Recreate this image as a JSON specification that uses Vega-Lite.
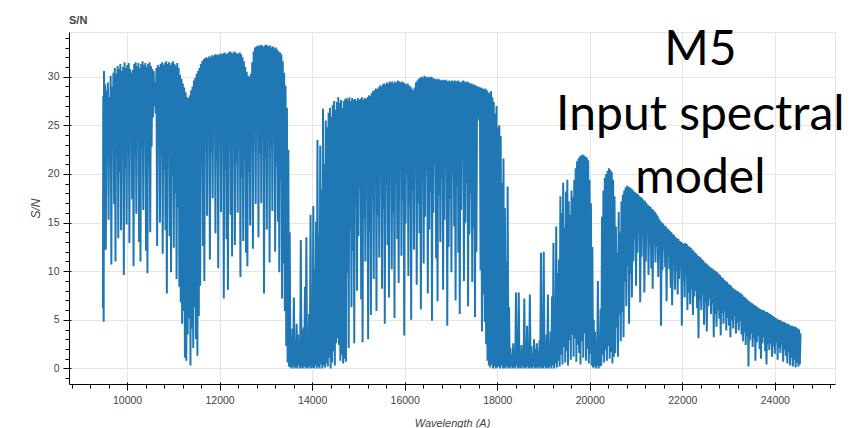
{
  "$schema": "https://vega.github.io/schema/vega-lite/v6.json",
  "autosize": "none",
  "width": 766,
  "height": 352,
  "padding": {"left": 69, "top": 32, "right": 21, "bottom": 44},
  "background": "#ffffff",
  "title": {"text": "S/N", "anchor": "start", "frame": "group", "font": "Liberation Sans", "fontSize": 11, "fontWeight": "bold", "color": "#444444", "offset": -8, "baseline": "alphabetic"},
  "config": {
    "view": {"stroke": "#e5e5e5", "strokeWidth": 1},
    "axis": {
      "labelFont": "Liberation Sans", "labelFontSize": 10.5, "labelColor": "#444444",
      "titleFont": "Liberation Sans", "titleColor": "#444444", "titleFontStyle": "italic", "titleFontWeight": "normal",
      "domainColor": "#000000", "tickColor": "#000000", "gridColor": "#e5e5e5", "domainWidth": 1, "tickWidth": 1
    }
  },
  "resolve": {"axis": {"x": "independent", "y": "independent"}},
  "layer": [
    {
      "data": {"values": [
        {"w":9478,"s":6.2},{"w":9486,"s":28.0},{"w":9494,"s":4.8},{"w":9502,"s":30.6},
        {"w":9510,"s":22.4},{"w":9525,"s":29.2},{"w":9540,"s":12.2},{"w":9555,"s":28.6},{"w":9570,"s":24.0},{"w":9585,"s":29.4},
        {"w":9600,"s":15.3},{"w":9615,"s":27.9},{"w":9630,"s":21.0},{"w":9645,"s":30.1},{"w":9660,"s":10.7},{"w":9675,"s":29.0},
        {"w":9690,"s":23.5},{"w":9705,"s":30.4},{"w":9720,"s":16.9},{"w":9735,"s":30.9},{"w":9750,"s":11.0},{"w":9765,"s":30.3},
        {"w":9780,"s":24.6},{"w":9795,"s":31.1},{"w":9810,"s":13.4},{"w":9825,"s":30.8},{"w":9840,"s":20.2},{"w":9855,"s":31.3},
        {"w":9870,"s":14.2},{"w":9885,"s":30.6},{"w":9900,"s":23.1},{"w":9915,"s":31.0},{"w":9930,"s":9.6},{"w":9945,"s":31.5},
        {"w":9960,"s":20.6},{"w":9975,"s":30.9},{"w":9990,"s":14.8},{"w":10005,"s":31.2},{"w":10020,"s":22.7},{"w":10035,"s":31.4},
        {"w":10050,"s":12.9},{"w":10065,"s":30.8},{"w":10080,"s":25.0},{"w":10095,"s":30.4},{"w":10110,"s":17.4},{"w":10125,"s":30.7},
        {"w":10140,"s":10.5},{"w":10155,"s":31.3},{"w":10170,"s":21.8},{"w":10185,"s":31.5},{"w":10200,"s":15.9},{"w":10215,"s":31.1},
        {"w":10230,"s":24.2},{"w":10245,"s":31.4},{"w":10260,"s":13.0},{"w":10275,"s":30.9},{"w":10290,"s":11.0},{"w":10305,"s":31.3},
        {"w":10320,"s":22.6},{"w":10335,"s":31.6},{"w":10350,"s":16.3},{"w":10365,"s":31.2},{"w":10380,"s":24.4},{"w":10395,"s":31.4},
        {"w":10410,"s":12.1},{"w":10425,"s":31.0},{"w":10440,"s":9.8},{"w":10455,"s":31.3},{"w":10470,"s":20.9},{"w":10485,"s":31.5},
        {"w":10500,"s":14.0},{"w":10515,"s":31.1},{"w":10530,"s":22.8},{"w":10545,"s":30.8},{"w":10560,"s":25.8},{"w":10575,"s":30.6},
        {"w":10590,"s":27.0},{"w":10605,"s":29.4},{"w":10620,"s":26.2},{"w":10635,"s":30.9},{"w":10650,"s":12.6},{"w":10665,"s":31.2},
        {"w":10680,"s":24.1},{"w":10695,"s":31.0},{"w":10710,"s":15.0},{"w":10725,"s":31.3},{"w":10740,"s":22.0},{"w":10755,"s":31.5},
        {"w":10770,"s":11.8},{"w":10785,"s":31.2},{"w":10800,"s":20.4},{"w":10815,"s":31.4},{"w":10830,"s":14.2},{"w":10845,"s":31.6},
        {"w":10860,"s":7.7},{"w":10875,"s":31.3},{"w":10890,"s":21.7},{"w":10905,"s":31.5},{"w":10920,"s":13.6},{"w":10935,"s":31.2},
        {"w":10950,"s":9.9},{"w":10965,"s":31.4},{"w":10980,"s":19.8},{"w":10995,"s":31.6},{"w":11010,"s":12.4},{"w":11025,"s":31.3},
        {"w":11040,"s":18.0},{"w":11055,"s":31.1},{"w":11070,"s":9.2},{"w":11085,"s":31.4},{"w":11100,"s":16.6},{"w":11115,"s":30.9},
        {"w":11130,"s":8.4},{"w":11145,"s":30.2},{"w":11160,"s":6.8},{"w":11175,"s":29.8},{"w":11190,"s":4.6},{"w":11205,"s":29.3},
        {"w":11220,"s":5.9},{"w":11235,"s":28.9},{"w":11250,"s":1.1},{"w":11265,"s":28.4},{"w":11280,"s":0.8},{"w":11295,"s":27.9},
        {"w":11310,"s":3.5},{"w":11325,"s":27.8},{"w":11340,"s":5.2},{"w":11355,"s":28.1},{"w":11370,"s":0.3},{"w":11385,"s":28.6},
        {"w":11400,"s":4.1},{"w":11415,"s":29.0},{"w":11430,"s":2.1},{"w":11445,"s":29.6},{"w":11460,"s":6.3},{"w":11475,"s":29.9},
        {"w":11490,"s":3.0},{"w":11505,"s":30.3},{"w":11520,"s":1.3},{"w":11535,"s":30.6},{"w":11550,"s":5.4},{"w":11565,"s":30.9},
        {"w":11580,"s":8.5},{"w":11595,"s":31.3},{"w":11610,"s":21.0},{"w":11625,"s":31.6},{"w":11640,"s":12.6},{"w":11655,"s":31.8},
        {"w":11670,"s":9.0},{"w":11685,"s":31.9},{"w":11700,"s":23.8},{"w":11715,"s":32.0},{"w":11730,"s":15.7},{"w":11745,"s":31.9},
        {"w":11760,"s":24.9},{"w":11775,"s":32.1},{"w":11790,"s":11.2},{"w":11805,"s":32.0},{"w":11820,"s":22.3},{"w":11835,"s":32.2},
        {"w":11850,"s":17.5},{"w":11865,"s":32.1},{"w":11880,"s":25.1},{"w":11895,"s":32.3},{"w":11910,"s":13.9},{"w":11925,"s":32.2},
        {"w":11940,"s":21.4},{"w":11955,"s":32.3},{"w":11970,"s":10.3},{"w":11985,"s":32.2},{"w":12000,"s":23.6},{"w":12015,"s":32.4},
        {"w":12030,"s":16.1},{"w":12045,"s":32.3},{"w":12060,"s":24.7},{"w":12075,"s":32.4},{"w":12090,"s":7.2},{"w":12105,"s":32.5},
        {"w":12120,"s":20.5},{"w":12135,"s":32.3},{"w":12150,"s":13.3},{"w":12165,"s":32.4},{"w":12180,"s":8.1},{"w":12195,"s":32.5},
        {"w":12210,"s":22.9},{"w":12225,"s":32.6},{"w":12240,"s":15.8},{"w":12255,"s":32.5},{"w":12270,"s":11.5},{"w":12285,"s":32.4},
        {"w":12300,"s":24.3},{"w":12315,"s":32.6},{"w":12330,"s":12.7},{"w":12345,"s":32.5},{"w":12360,"s":21.2},{"w":12375,"s":32.4},
        {"w":12390,"s":16.0},{"w":12405,"s":32.4},{"w":12420,"s":23.0},{"w":12435,"s":32.5},{"w":12450,"s":9.4},{"w":12465,"s":32.3},
        {"w":12480,"s":19.6},{"w":12495,"s":32.0},{"w":12510,"s":13.1},{"w":12525,"s":31.6},{"w":12540,"s":21.5},{"w":12555,"s":31.0},
        {"w":12570,"s":11.9},{"w":12585,"s":30.5},{"w":12600,"s":10.5},{"w":12615,"s":30.1},{"w":12630,"s":20.2},{"w":12645,"s":30.0},
        {"w":12660,"s":14.7},{"w":12675,"s":30.3},{"w":12690,"s":23.4},{"w":12705,"s":31.5},{"w":12720,"s":12.3},{"w":12735,"s":32.6},
        {"w":12750,"s":24.8},{"w":12765,"s":33.0},{"w":12780,"s":16.9},{"w":12795,"s":33.1},{"w":12810,"s":25.2},{"w":12825,"s":33.2},
        {"w":12840,"s":13.5},{"w":12855,"s":33.1},{"w":12870,"s":22.1},{"w":12885,"s":33.3},{"w":12900,"s":17.0},{"w":12915,"s":33.2},
        {"w":12930,"s":24.5},{"w":12945,"s":33.1},{"w":12960,"s":7.7},{"w":12975,"s":33.2},{"w":12990,"s":21.6},{"w":13005,"s":33.3},
        {"w":13020,"s":14.3},{"w":13035,"s":33.2},{"w":13050,"s":24.0},{"w":13065,"s":33.1},{"w":13080,"s":10.9},{"w":13095,"s":33.2},
        {"w":13110,"s":22.7},{"w":13125,"s":33.0},{"w":13140,"s":16.2},{"w":13155,"s":33.1},{"w":13170,"s":23.9},{"w":13185,"s":32.9},
        {"w":13200,"s":12.0},{"w":13215,"s":33.0},{"w":13230,"s":20.8},{"w":13245,"s":32.8},{"w":13260,"s":15.1},{"w":13275,"s":32.6},
        {"w":13290,"s":9.9},{"w":13305,"s":32.5},{"w":13320,"s":19.4},{"w":13335,"s":32.3},{"w":13350,"s":7.2},{"w":13365,"s":31.6},
        {"w":13380,"s":10.8},{"w":13395,"s":30.4},{"w":13410,"s":5.9},{"w":13425,"s":29.1},{"w":13440,"s":2.3},{"w":13455,"s":26.8},
        {"w":13470,"s":0.6},{"w":13485,"s":22.5},{"w":13500,"s":0.2},{"w":13515,"s":14.0},{"w":13530,"s":0.1},{"w":13545,"s":3.2},
        {"w":13560,"s":0.0},{"w":13575,"s":4.1},{"w":13590,"s":0.2},{"w":13605,"s":7.3},{"w":13620,"s":0.0},{"w":13635,"s":2.8},
        {"w":13650,"s":0.1},{"w":13665,"s":4.6},{"w":13680,"s":0.0},{"w":13695,"s":3.5},{"w":13710,"s":0.3},{"w":13725,"s":2.6},
        {"w":13740,"s":0.0},{"w":13755,"s":13.2},{"w":13770,"s":0.1},{"w":13785,"s":3.9},{"w":13800,"s":0.0},{"w":13815,"s":4.2},
        {"w":13830,"s":0.2},{"w":13845,"s":8.4},{"w":13860,"s":0.0},{"w":13875,"s":13.5},{"w":13890,"s":0.1},{"w":13905,"s":3.1},
        {"w":13920,"s":0.0},{"w":13935,"s":5.6},{"w":13950,"s":0.2},{"w":13965,"s":15.8},{"w":13980,"s":0.0},{"w":13995,"s":4.9},
        {"w":14010,"s":0.1},{"w":14025,"s":16.7},{"w":14040,"s":0.0},{"w":14055,"s":10.2},{"w":14070,"s":0.3},{"w":14085,"s":15.1},
        {"w":14100,"s":0.0},{"w":14115,"s":23.5},{"w":14130,"s":0.2},{"w":14145,"s":13.8},{"w":14160,"s":0.0},{"w":14175,"s":22.9},
        {"w":14190,"s":0.4},{"w":14205,"s":18.4},{"w":14220,"s":0.0},{"w":14235,"s":26.7},{"w":14250,"s":0.3},{"w":14265,"s":21.0},
        {"w":14280,"s":0.1},{"w":14295,"s":25.5},{"w":14310,"s":0.5},{"w":14325,"s":24.8},{"w":14340,"s":0.2},{"w":14355,"s":26.3},
        {"w":14370,"s":1.1},{"w":14385,"s":26.8},{"w":14400,"s":0.0},{"w":14415,"s":25.9},{"w":14430,"s":0.6},{"w":14445,"s":27.1},
        {"w":14460,"s":1.8},{"w":14475,"s":27.5},{"w":14490,"s":0.3},{"w":14505,"s":26.6},{"w":14520,"s":2.6},{"w":14535,"s":27.4},
        {"w":14550,"s":3.1},{"w":14565,"s":27.9},{"w":14580,"s":2.4},{"w":14595,"s":27.3},{"w":14610,"s":0.8},{"w":14625,"s":27.6},
        {"w":14640,"s":1.4},{"w":14655,"s":26.8},{"w":14670,"s":0.5},{"w":14685,"s":27.5},{"w":14700,"s":1.0},{"w":14715,"s":27.7},
        {"w":14730,"s":0.7},{"w":14745,"s":27.8},{"w":14760,"s":9.8},{"w":14775,"s":27.6},{"w":14790,"s":2.1},{"w":14805,"s":27.9},
        {"w":14820,"s":14.5},{"w":14835,"s":27.5},{"w":14850,"s":6.3},{"w":14865,"s":27.8},{"w":14880,"s":12.1},{"w":14895,"s":27.6},
        {"w":14910,"s":2.6},{"w":14925,"s":27.7},{"w":14940,"s":16.8},{"w":14955,"s":27.5},{"w":14970,"s":8.0},{"w":14985,"s":27.8},
        {"w":15000,"s":13.6},{"w":15015,"s":27.6},{"w":15030,"s":18.5},{"w":15045,"s":27.7},{"w":15060,"s":7.1},{"w":15075,"s":27.9},
        {"w":15090,"s":2.7},{"w":15105,"s":27.6},{"w":15120,"s":15.4},{"w":15135,"s":27.8},{"w":15150,"s":11.0},{"w":15165,"s":27.7},
        {"w":15180,"s":19.2},{"w":15195,"s":27.9},{"w":15210,"s":3.0},{"w":15225,"s":28.1},{"w":15240,"s":14.0},{"w":15255,"s":28.0},
        {"w":15270,"s":5.5},{"w":15285,"s":28.3},{"w":15300,"s":17.6},{"w":15315,"s":28.5},{"w":15330,"s":9.2},{"w":15345,"s":28.6},
        {"w":15360,"s":19.8},{"w":15375,"s":28.8},{"w":15390,"s":5.9},{"w":15405,"s":28.7},{"w":15420,"s":15.7},{"w":15435,"s":28.9},
        {"w":15450,"s":11.4},{"w":15465,"s":29.1},{"w":15480,"s":20.3},{"w":15495,"s":29.0},{"w":15510,"s":8.2},{"w":15525,"s":29.2},
        {"w":15540,"s":16.4},{"w":15555,"s":29.3},{"w":15570,"s":4.6},{"w":15585,"s":29.2},{"w":15600,"s":18.9},{"w":15615,"s":29.4},
        {"w":15630,"s":12.7},{"w":15645,"s":29.3},{"w":15660,"s":7.3},{"w":15675,"s":29.5},{"w":15690,"s":20.6},{"w":15705,"s":29.4},
        {"w":15720,"s":10.2},{"w":15735,"s":29.5},{"w":15750,"s":16.1},{"w":15765,"s":29.3},{"w":15780,"s":5.2},{"w":15795,"s":29.5},
        {"w":15810,"s":19.0},{"w":15825,"s":29.4},{"w":15840,"s":13.3},{"w":15855,"s":29.6},{"w":15870,"s":8.8},{"w":15885,"s":29.5},
        {"w":15900,"s":21.0},{"w":15915,"s":29.4},{"w":15930,"s":11.6},{"w":15945,"s":29.5},{"w":15960,"s":17.2},{"w":15975,"s":29.4},
        {"w":15990,"s":3.4},{"w":16005,"s":29.3},{"w":16020,"s":14.9},{"w":16035,"s":29.2},{"w":16050,"s":20.1},{"w":16065,"s":29.3},
        {"w":16080,"s":9.5},{"w":16095,"s":29.1},{"w":16110,"s":16.7},{"w":16125,"s":29.0},{"w":16140,"s":5.0},{"w":16155,"s":28.8},
        {"w":16170,"s":18.4},{"w":16185,"s":28.6},{"w":16200,"s":12.2},{"w":16215,"s":28.9},{"w":16230,"s":21.3},{"w":16245,"s":29.4},
        {"w":16260,"s":8.6},{"w":16275,"s":29.6},{"w":16290,"s":17.0},{"w":16305,"s":29.8},{"w":16320,"s":13.9},{"w":16335,"s":29.9},
        {"w":16350,"s":6.1},{"w":16365,"s":30.0},{"w":16380,"s":19.6},{"w":16395,"s":29.9},{"w":16410,"s":10.8},{"w":16425,"s":30.1},
        {"w":16440,"s":15.6},{"w":16455,"s":30.0},{"w":16470,"s":20.4},{"w":16485,"s":29.9},{"w":16500,"s":7.7},{"w":16515,"s":30.0},
        {"w":16530,"s":14.3},{"w":16545,"s":29.9},{"w":16560,"s":18.2},{"w":16575,"s":30.0},{"w":16590,"s":4.9},{"w":16605,"s":29.9},
        {"w":16620,"s":16.0},{"w":16635,"s":29.8},{"w":16650,"s":21.1},{"w":16665,"s":29.8},{"w":16680,"s":11.3},{"w":16695,"s":29.7},
        {"w":16710,"s":6.9},{"w":16725,"s":29.8},{"w":16740,"s":17.8},{"w":16755,"s":29.7},{"w":16770,"s":13.0},{"w":16785,"s":29.6},
        {"w":16800,"s":19.5},{"w":16815,"s":29.7},{"w":16830,"s":8.1},{"w":16845,"s":29.6},{"w":16860,"s":15.3},{"w":16875,"s":29.7},
        {"w":16890,"s":20.7},{"w":16905,"s":29.6},{"w":16920,"s":4.4},{"w":16935,"s":29.5},{"w":16950,"s":12.5},{"w":16965,"s":29.6},
        {"w":16980,"s":17.4},{"w":16995,"s":29.5},{"w":17010,"s":9.9},{"w":17025,"s":29.6},{"w":17040,"s":20.0},{"w":17055,"s":29.5},
        {"w":17070,"s":14.6},{"w":17085,"s":29.6},{"w":17100,"s":7.0},{"w":17115,"s":29.5},{"w":17130,"s":18.7},{"w":17145,"s":29.6},
        {"w":17160,"s":11.9},{"w":17175,"s":29.5},{"w":17190,"s":5.6},{"w":17205,"s":29.4},{"w":17220,"s":16.3},{"w":17235,"s":29.5},
        {"w":17250,"s":21.4},{"w":17265,"s":29.6},{"w":17280,"s":9.0},{"w":17295,"s":29.5},{"w":17310,"s":15.0},{"w":17325,"s":29.4},
        {"w":17340,"s":19.1},{"w":17355,"s":29.5},{"w":17370,"s":6.4},{"w":17385,"s":29.4},{"w":17400,"s":13.8},{"w":17415,"s":29.3},
        {"w":17430,"s":18.0},{"w":17445,"s":29.3},{"w":17460,"s":8.9},{"w":17475,"s":29.2},{"w":17490,"s":14.4},{"w":17505,"s":29.2},
        {"w":17520,"s":5.3},{"w":17535,"s":29.1},{"w":17550,"s":12.0},{"w":17565,"s":29.0},{"w":17580,"s":25.5},{"w":17595,"s":29.0},
        {"w":17610,"s":26.0},{"w":17625,"s":28.9},{"w":17640,"s":10.1},{"w":17655,"s":28.9},{"w":17670,"s":3.8},{"w":17685,"s":28.8},
        {"w":17700,"s":7.6},{"w":17715,"s":28.7},{"w":17730,"s":4.8},{"w":17745,"s":28.8},{"w":17760,"s":2.5},{"w":17775,"s":28.6},
        {"w":17790,"s":0.8},{"w":17805,"s":28.4},{"w":17820,"s":0.3},{"w":17835,"s":28.3},{"w":17850,"s":0.1},{"w":17865,"s":28.5},
        {"w":17880,"s":0.4},{"w":17895,"s":27.9},{"w":17910,"s":0.0},{"w":17925,"s":27.4},{"w":17940,"s":0.2},{"w":17955,"s":26.2},
        {"w":17970,"s":0.0},{"w":17985,"s":27.0},{"w":18000,"s":0.1},{"w":18015,"s":24.8},{"w":18030,"s":0.2},{"w":18045,"s":25.0},
        {"w":18060,"s":0.0},{"w":18075,"s":23.9},{"w":18090,"s":0.3},{"w":18105,"s":19.1},{"w":18120,"s":0.0},{"w":18135,"s":21.6},
        {"w":18150,"s":0.1},{"w":18165,"s":16.5},{"w":18180,"s":0.0},{"w":18195,"s":11.0},{"w":18210,"s":0.2},{"w":18225,"s":18.7},
        {"w":18240,"s":0.0},{"w":18255,"s":6.3},{"w":18270,"s":0.0},{"w":18285,"s":2.1},{"w":18300,"s":0.2},{"w":18315,"s":1.4},
        {"w":18330,"s":0.0},{"w":18345,"s":2.6},{"w":18360,"s":0.1},{"w":18375,"s":1.8},{"w":18390,"s":0.0},{"w":18405,"s":7.8},
        {"w":18420,"s":0.3},{"w":18435,"s":2.2},{"w":18450,"s":0.0},{"w":18465,"s":7.8},{"w":18480,"s":0.1},{"w":18495,"s":1.6},
        {"w":18510,"s":0.0},{"w":18525,"s":2.4},{"w":18540,"s":0.2},{"w":18555,"s":1.9},{"w":18570,"s":0.0},{"w":18585,"s":7.2},
        {"w":18600,"s":0.1},{"w":18615,"s":2.5},{"w":18630,"s":0.0},{"w":18645,"s":4.4},{"w":18660,"s":0.2},{"w":18675,"s":1.7},
        {"w":18690,"s":0.0},{"w":18705,"s":7.6},{"w":18720,"s":0.1},{"w":18735,"s":2.3},{"w":18750,"s":0.0},{"w":18765,"s":1.5},
        {"w":18780,"s":0.2},{"w":18795,"s":3.0},{"w":18810,"s":0.0},{"w":18825,"s":2.0},{"w":18840,"s":0.1},{"w":18855,"s":2.6},
        {"w":18870,"s":0.0},{"w":18885,"s":1.8},{"w":18900,"s":0.2},{"w":18915,"s":2.9},{"w":18930,"s":0.0},{"w":18945,"s":11.9},
        {"w":18960,"s":0.1},{"w":18975,"s":3.2},{"w":18990,"s":0.0},{"w":19005,"s":12.0},{"w":19020,"s":0.2},{"w":19035,"s":2.7},
        {"w":19050,"s":0.0},{"w":19065,"s":3.5},{"w":19080,"s":0.1},{"w":19095,"s":7.6},{"w":19110,"s":0.0},{"w":19125,"s":2.4},
        {"w":19140,"s":0.2},{"w":19155,"s":3.8},{"w":19170,"s":0.0},{"w":19185,"s":7.4},{"w":19200,"s":0.3},{"w":19215,"s":12.9},
        {"w":19230,"s":0.0},{"w":19245,"s":5.2},{"w":19260,"s":0.5},{"w":19275,"s":14.6},{"w":19290,"s":0.1},{"w":19305,"s":9.8},
        {"w":19320,"s":0.8},{"w":19335,"s":11.2},{"w":19350,"s":0.2},{"w":19365,"s":17.7},{"w":19380,"s":1.4},{"w":19395,"s":16.0},
        {"w":19410,"s":0.4},{"w":19425,"s":19.1},{"w":19440,"s":2.2},{"w":19455,"s":14.5},{"w":19470,"s":0.6},{"w":19485,"s":18.2},
        {"w":19500,"s":1.8},{"w":19515,"s":19.4},{"w":19530,"s":0.3},{"w":19545,"s":17.2},{"w":19560,"s":2.9},{"w":19575,"s":15.8},
        {"w":19590,"s":0.9},{"w":19605,"s":18.3},{"w":19620,"s":3.5},{"w":19635,"s":17.6},{"w":19650,"s":1.2},{"w":19665,"s":19.4},
        {"w":19680,"s":3.1},{"w":19695,"s":20.6},{"w":19710,"s":0.7},{"w":19725,"s":21.3},{"w":19740,"s":2.4},{"w":19755,"s":21.6},
        {"w":19770,"s":1.6},{"w":19785,"s":21.8},{"w":19800,"s":0.4},{"w":19815,"s":21.9},{"w":19830,"s":2.8},{"w":19845,"s":22.0},
        {"w":19860,"s":1.1},{"w":19875,"s":21.9},{"w":19890,"s":3.6},{"w":19905,"s":21.8},{"w":19920,"s":0.8},{"w":19935,"s":21.7},
        {"w":19950,"s":2.0},{"w":19965,"s":21.4},{"w":19980,"s":0.5},{"w":19995,"s":19.4},{"w":20010,"s":1.5},{"w":20025,"s":17.0},
        {"w":20040,"s":0.3},{"w":20055,"s":12.5},{"w":20070,"s":0.1},{"w":20085,"s":5.0},{"w":20100,"s":0.2},{"w":20115,"s":3.8},
        {"w":20130,"s":0.0},{"w":20145,"s":1.9},{"w":20160,"s":0.3},{"w":20175,"s":9.0},{"w":20190,"s":0.0},{"w":20205,"s":2.6},
        {"w":20220,"s":0.2},{"w":20235,"s":6.1},{"w":20250,"s":0.3},{"w":20265,"s":15.6},{"w":20280,"s":1.4},{"w":20295,"s":18.3},
        {"w":20310,"s":0.6},{"w":20325,"s":19.6},{"w":20340,"s":1.9},{"w":20355,"s":20.0},{"w":20370,"s":0.8},{"w":20385,"s":20.3},
        {"w":20400,"s":2.3},{"w":20415,"s":20.6},{"w":20430,"s":1.0},{"w":20445,"s":20.4},{"w":20460,"s":1.7},{"w":20475,"s":20.2},
        {"w":20490,"s":0.5},{"w":20505,"s":19.4},{"w":20520,"s":1.2},{"w":20535,"s":17.7},{"w":20550,"s":1.6},{"w":20565,"s":14.6},
        {"w":20580,"s":4.2},{"w":20595,"s":11.9},{"w":20610,"s":1.2},{"w":20625,"s":16.1},{"w":20640,"s":5.5},{"w":20655,"s":14.0},
        {"w":20670,"s":2.8},{"w":20685,"s":17.2},{"w":20700,"s":5.8},{"w":20715,"s":17.9},{"w":20730,"s":3.2},{"w":20745,"s":18.3},
        {"w":20760,"s":8.9},{"w":20775,"s":18.6},{"w":20790,"s":6.4},{"w":20805,"s":18.8},{"w":20820,"s":10.5},{"w":20835,"s":18.7},
        {"w":20850,"s":4.6},{"w":20865,"s":18.6},{"w":20880,"s":9.7},{"w":20895,"s":18.5},{"w":20910,"s":7.3},{"w":20925,"s":18.4},
        {"w":20940,"s":11.0},{"w":20955,"s":18.2},{"w":20970,"s":13.4},{"w":20985,"s":18.1},{"w":21000,"s":8.5},{"w":21015,"s":18.0},
        {"w":21030,"s":11.9},{"w":21045,"s":17.9},{"w":21060,"s":14.2},{"w":21075,"s":17.7},{"w":21090,"s":6.8},{"w":21105,"s":17.6},
        {"w":21120,"s":11.5},{"w":21135,"s":17.5},{"w":21150,"s":13.6},{"w":21165,"s":17.3},{"w":21180,"s":7.8},{"w":21195,"s":17.2},
        {"w":21210,"s":11.0},{"w":21225,"s":17.0},{"w":21240,"s":13.9},{"w":21255,"s":16.8},{"w":21270,"s":9.6},{"w":21285,"s":16.7},
        {"w":21300,"s":12.8},{"w":21315,"s":16.6},{"w":21330,"s":10.3},{"w":21345,"s":16.4},{"w":21360,"s":8.2},{"w":21375,"s":16.3},
        {"w":21390,"s":12.9},{"w":21405,"s":16.1},{"w":21420,"s":10.9},{"w":21435,"s":15.9},{"w":21450,"s":12.6},{"w":21465,"s":15.7},
        {"w":21480,"s":9.4},{"w":21495,"s":15.4},{"w":21510,"s":11.8},{"w":21525,"s":15.2},{"w":21540,"s":4.4},{"w":21555,"s":15.0},
        {"w":21570,"s":10.1},{"w":21585,"s":14.9},{"w":21600,"s":12.2},{"w":21615,"s":14.7},{"w":21630,"s":10.4},{"w":21645,"s":14.6},
        {"w":21660,"s":6.9},{"w":21675,"s":14.4},{"w":21690,"s":11.5},{"w":21705,"s":14.3},{"w":21720,"s":10.2},{"w":21735,"s":14.1},
        {"w":21750,"s":8.3},{"w":21765,"s":14.0},{"w":21780,"s":6.5},{"w":21795,"s":13.8},{"w":21810,"s":10.7},{"w":21825,"s":13.7},
        {"w":21840,"s":8.1},{"w":21855,"s":13.5},{"w":21870,"s":10.0},{"w":21885,"s":13.4},{"w":21900,"s":7.6},{"w":21915,"s":13.3},
        {"w":21930,"s":9.2},{"w":21945,"s":13.1},{"w":21960,"s":10.4},{"w":21975,"s":13.0},{"w":21990,"s":4.4},{"w":22005,"s":12.9},
        {"w":22020,"s":9.0},{"w":22035,"s":12.8},{"w":22050,"s":7.3},{"w":22065,"s":12.9},{"w":22080,"s":9.8},{"w":22095,"s":12.8},
        {"w":22110,"s":6.0},{"w":22125,"s":12.6},{"w":22140,"s":7.8},{"w":22155,"s":12.5},{"w":22170,"s":6.6},{"w":22185,"s":12.4},
        {"w":22200,"s":8.2},{"w":22215,"s":12.2},{"w":22230,"s":5.5},{"w":22245,"s":12.1},{"w":22260,"s":7.4},{"w":22275,"s":11.9},
        {"w":22290,"s":8.0},{"w":22305,"s":11.8},{"w":22320,"s":6.2},{"w":22335,"s":11.6},{"w":22350,"s":3.1},{"w":22365,"s":11.5},
        {"w":22380,"s":7.1},{"w":22395,"s":11.4},{"w":22410,"s":6.0},{"w":22425,"s":11.2},{"w":22440,"s":7.7},{"w":22455,"s":11.1},
        {"w":22470,"s":4.5},{"w":22485,"s":10.9},{"w":22500,"s":6.8},{"w":22515,"s":10.8},{"w":22530,"s":3.8},{"w":22545,"s":10.7},
        {"w":22560,"s":6.4},{"w":22575,"s":10.5},{"w":22590,"s":7.2},{"w":22605,"s":10.4},{"w":22620,"s":5.6},{"w":22635,"s":10.3},
        {"w":22650,"s":6.7},{"w":22665,"s":10.2},{"w":22680,"s":3.2},{"w":22695,"s":10.1},{"w":22710,"s":5.6},{"w":22725,"s":10.0},
        {"w":22740,"s":4.3},{"w":22755,"s":9.9},{"w":22770,"s":6.0},{"w":22785,"s":9.7},{"w":22800,"s":5.1},{"w":22815,"s":9.6},
        {"w":22830,"s":3.4},{"w":22845,"s":9.4},{"w":22860,"s":5.7},{"w":22875,"s":9.3},{"w":22890,"s":4.6},{"w":22905,"s":9.1},
        {"w":22920,"s":5.9},{"w":22935,"s":9.0},{"w":22950,"s":3.9},{"w":22965,"s":8.9},{"w":22980,"s":5.2},{"w":22995,"s":8.7},
        {"w":23010,"s":4.4},{"w":23025,"s":8.6},{"w":23040,"s":3.2},{"w":23055,"s":8.5},{"w":23070,"s":5.0},{"w":23085,"s":8.3},
        {"w":23100,"s":4.1},{"w":23115,"s":8.2},{"w":23130,"s":5.4},{"w":23145,"s":8.1},{"w":23160,"s":3.6},{"w":23175,"s":8.0},
        {"w":23190,"s":4.7},{"w":23205,"s":7.9},{"w":23220,"s":3.9},{"w":23235,"s":7.8},{"w":23250,"s":4.9},{"w":23265,"s":7.7},
        {"w":23280,"s":3.5},{"w":23295,"s":7.6},{"w":23310,"s":2.8},{"w":23325,"s":7.4},{"w":23340,"s":3.7},{"w":23355,"s":7.3},
        {"w":23370,"s":2.4},{"w":23385,"s":7.2},{"w":23400,"s":3.3},{"w":23415,"s":7.0},{"w":23430,"s":0.2},{"w":23445,"s":6.9},
        {"w":23460,"s":2.9},{"w":23475,"s":6.8},{"w":23490,"s":3.6},{"w":23505,"s":6.7},{"w":23520,"s":2.2},{"w":23535,"s":6.6},
        {"w":23550,"s":3.1},{"w":23565,"s":6.5},{"w":23580,"s":0.8},{"w":23595,"s":6.4},{"w":23610,"s":2.7},{"w":23625,"s":6.3},
        {"w":23640,"s":3.4},{"w":23655,"s":6.2},{"w":23670,"s":2.0},{"w":23685,"s":6.1},{"w":23700,"s":1.0},{"w":23715,"s":6.0},
        {"w":23730,"s":2.6},{"w":23745,"s":6.0},{"w":23760,"s":3.2},{"w":23775,"s":5.9},{"w":23790,"s":1.8},{"w":23805,"s":5.8},
        {"w":23820,"s":0.4},{"w":23835,"s":5.8},{"w":23850,"s":2.5},{"w":23865,"s":5.7},{"w":23880,"s":1.9},{"w":23895,"s":5.6},
        {"w":23910,"s":2.6},{"w":23925,"s":5.5},{"w":23940,"s":1.2},{"w":23955,"s":5.4},{"w":23970,"s":2.3},{"w":23985,"s":5.3},
        {"w":24000,"s":1.5},{"w":24015,"s":5.2},{"w":24030,"s":2.7},{"w":24045,"s":5.1},{"w":24060,"s":0.9},{"w":24075,"s":5.0},
        {"w":24090,"s":2.1},{"w":24105,"s":5.0},{"w":24120,"s":1.6},{"w":24135,"s":4.9},{"w":24150,"s":2.4},{"w":24165,"s":4.8},
        {"w":24180,"s":0.7},{"w":24195,"s":4.8},{"w":24210,"s":1.9},{"w":24225,"s":4.7},{"w":24240,"s":1.3},{"w":24255,"s":4.6},
        {"w":24270,"s":0.5},{"w":24285,"s":4.6},{"w":24300,"s":1.7},{"w":24315,"s":4.5},{"w":24330,"s":0.3},{"w":24345,"s":4.4},
        {"w":24360,"s":1.1},{"w":24375,"s":4.4},{"w":24390,"s":0.2},{"w":24405,"s":4.3},{"w":24420,"s":0.9},{"w":24435,"s":4.3},
        {"w":24450,"s":0.1},{"w":24465,"s":4.2},{"w":24480,"s":0.6},{"w":24495,"s":4.1},{"w":24510,"s":0.2},{"w":24525,"s":4.0},
        {"w":24540,"s":0.4},{"w":24555,"s":3.6}
      ]},
      "mark": {"type": "line", "color": "#1f77b4", "strokeWidth": 2},
      "encoding": {
        "x": {
          "field": "w", "type": "quantitative",
          "scale": {"domain": [8745, 25300], "nice": false, "zero": false},
          "axis": {"orient": "bottom", "values": [10000, 12000, 14000, 16000, 18000, 20000, 22000, 24000], "format": "d", "title": "Wavelength (A)",
                   "grid": true, "tickSize": 6, "labelPadding": 5, "titlePadding": 12, "titleFontSize": 11, "labelFlush": false, "labelOverlap": false}
        },
        "y": {
          "field": "s", "type": "quantitative",
          "scale": {"domain": [-1.6, 34.6], "nice": false, "zero": false},
          "axis": {"orient": "left", "values": [0, 5, 10, 15, 20, 25, 30], "title": "S/N", "grid": true, "tickSize": 6, "labelPadding": 4, "titlePadding": 5, "titleFontSize": 12}
        }
      }
    },
    {
      "data": {"values": [{}]},
      "mark": {"type": "text", "text": "M5", "font": "Lato", "fontSize": 48, "color": "#000000", "align": "center", "baseline": "alphabetic"},
      "encoding": {
        "x": {"datum": 22390, "type": "quantitative",
              "axis": {"orient": "bottom", "values": [8800, 9200, 9600, 10000, 10400, 10800, 11200, 11600, 12000, 12400, 12800, 13200, 13600, 14000, 14400, 14800, 15200, 15600, 16000, 16400, 16800, 17200, 17600, 18000, 18400, 18800, 19200, 19600, 20000, 20400, 20800, 21200, 21600, 22000, 22400, 22800, 23200, 23600, 24000, 24400, 24800, 25200],
                       "labels": false, "grid": false, "domain": false, "tickSize": 4, "title": null}},
        "y": {"datum": 31.2, "type": "quantitative",
              "axis": {"orient": "left", "values": [-1, 0, 1, 2, 3, 4, 5, 6, 7, 8, 9, 10, 11, 12, 13, 14, 15, 16, 17, 18, 19, 20, 21, 22, 23, 24, 25, 26, 27, 28, 29, 30, 31, 32, 33, 34],
                       "labels": false, "grid": false, "domain": false, "tickSize": 4, "title": null}}
      }
    },
    {
      "data": {"values": [{}]},
      "mark": {"type": "text", "text": "Input spectral", "font": "Lato", "fontSize": 48, "color": "#000000", "align": "center", "baseline": "alphabetic"},
      "encoding": {
        "x": {"datum": 22390, "type": "quantitative",
              "axis": {"orient": "bottom", "values": [10000, 12000, 14000, 16000, 18000, 20000, 22000, 24000], "labels": false, "grid": false, "domain": false, "tickSize": -2, "title": null}},
        "y": {"datum": 24.5, "type": "quantitative",
              "axis": {"orient": "left", "values": [0, 5, 10, 15, 20, 25, 30], "labels": false, "grid": false, "domain": false, "tickSize": -2, "title": null}}
      }
    },
    {
      "data": {"values": [{}]},
      "mark": {"type": "text", "text": "model", "font": "Lato", "fontSize": 48, "color": "#000000", "align": "center", "baseline": "alphabetic"},
      "encoding": {
        "x": {"datum": 22390, "type": "quantitative", "axis": null},
        "y": {"datum": 18.0, "type": "quantitative", "axis": null}
      }
    }
  ]
}
